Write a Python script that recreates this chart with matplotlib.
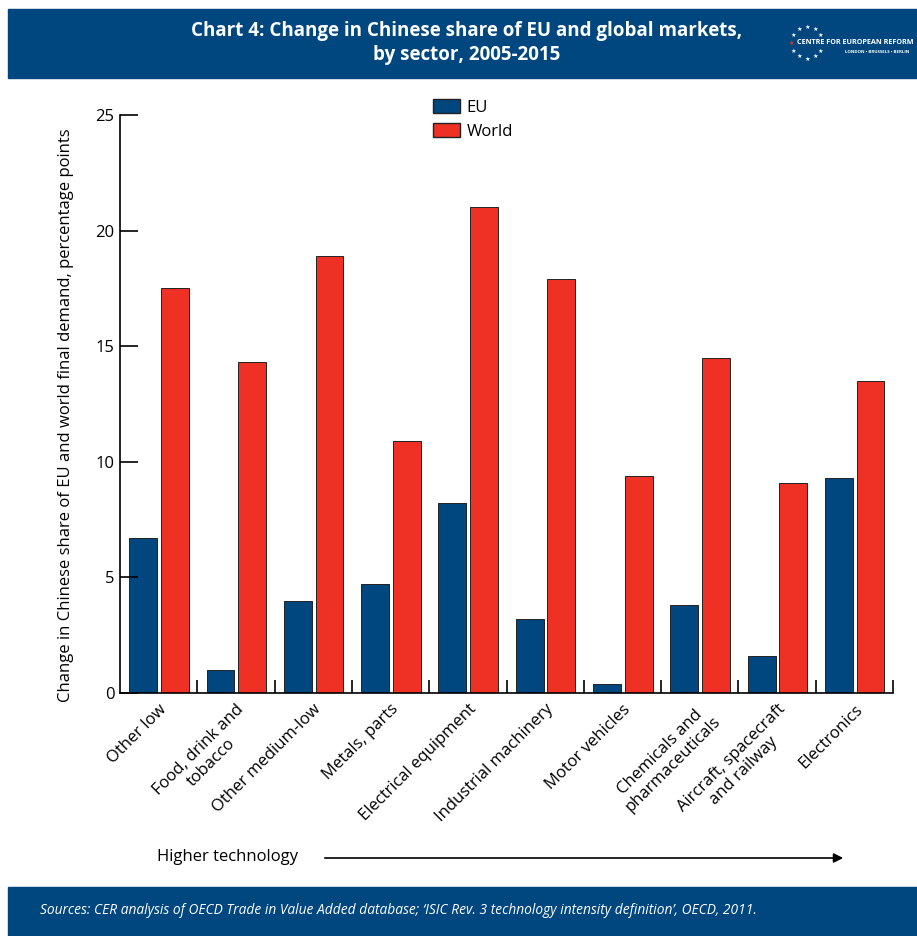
import numpy as np
import matplotlib
matplotlib.use("Agg")
import matplotlib.pyplot as plt
from matplotlib.patches import Rectangle, Patch

plt.rcParams['font.family'] = ['Open Sans', 'DejaVu Sans']

categories = ["Other low", "Food, drink and\ntobacco", "Other medium-low", "Metals, parts",
              "Electrical equipment", "Industrial machinery", "Motor vehicles",
              "Chemicals and\npharmaceuticals", "Aircraft, spacecraft\nand railway", "Electronics"]
eu = [6.7, 1.0, 4.0, 4.7, 8.2, 3.2, 0.4, 3.8, 1.6, 9.3]
world = [17.5, 14.3, 18.9, 10.9, 21.0, 17.9, 9.4, 14.5, 9.1, 13.5]
yticks = [0, 5, 10, 15, 20, 25]

blue = '#00467f'
red = '#ee3124'

fig = plt.figure(figsize=(9.17, 9.36), dpi=100)

# header and footer banners
fig.patches.append(Rectangle((8/917, 1-78/936), 1, 69/936, transform=fig.transFigure,
                             color=blue, zorder=0))
fig.patches.append(Rectangle((8/917, 0), 1, 49/936, transform=fig.transFigure,
                             color=blue, zorder=0))
fig.text(467/917, 1-43/936, "Chart 4: Change in Chinese share of EU and global markets,\nby sector, 2005-2015",
         color='white', fontsize=13.5, fontweight='bold', ha='center', va='center', linespacing=1.3)
fig.text(40/917, 1-911/936,
         "Sources: CER analysis of OECD Trade in Value Added database; \u2018ISIC Rev. 3 technology intensity definition\u2019, OECD, 2011.",
         color='white', fontsize=9.9, style='italic', ha='left', va='center')

# logo
ang = np.deg2rad(np.arange(0, 360, 30))
keep = ang != 0
sx = (807 + 16*np.cos(ang)) / 917
sy = (936 - 43 + 16*np.sin(ang)) / 936
cols = ['white' if abs(a - np.pi) > 0.01 else red for a in ang[keep]]
for x, y, c in zip(sx[keep], sy[keep], cols):
    fig.text(x, y, '\u2605', color=c, fontsize=4.5, ha='center', va='center', family='DejaVu Sans')
fig.text(797/917, 1-43/936, "CENTRE FOR EUROPEAN REFORM", color='white', fontsize=5.2,
         fontweight='bold', ha='left', va='center')
fig.text(909/917, 1-52/936, "LONDON \u2022 BRUSSELS \u2022 BERLIN", color='white', fontsize=3.2,
         fontweight='bold', ha='right', va='center')

ax = fig.add_axes([120/917, 1-693/936, 773/917, 578/936])
x = np.arange(len(categories))
ax.bar(x + 0.30, eu, width=0.36, color=blue, edgecolor='#222222', linewidth=0.7, label='EU')
ax.bar(x + 0.71, world, width=0.36, color=red, edgecolor='#222222', linewidth=0.7, label='World')

ax.set_xlim(0, len(categories))
ax.set_ylim(0, 25)
ax.set_yticks(yticks)
ax.tick_params(axis='y', direction='in', length=13, width=1.2, labelsize=12, pad=4)
ax.set_xticks(np.arange(1, len(categories) + 1))
ax.tick_params(axis='x', which='major', direction='in', length=9.5, width=1.2, labelbottom=False)
ax.set_xticks(x + 0.5, minor=True)
ax.set_xticklabels(categories, minor=True, rotation=45, ha='right', rotation_mode='anchor',
                   fontsize=12, multialignment='center')
ax.tick_params(axis='x', which='minor', length=0, pad=6)
for lab in ax.get_xticklabels(minor=True):
    lab.set_linespacing(1.15)
for s in ['top', 'right']:
    ax.spines[s].set_visible(False)
for s in ['left', 'bottom']:
    ax.spines[s].set_linewidth(1.2)

ax.set_ylabel("Change in Chinese share of EU and world final demand, percentage points",
              fontsize=12)
ax.yaxis.set_label_coords(-0.06, 0.48)

ax.legend(handles=[Patch(facecolor=blue, edgecolor='#222222', label='EU'),
                   Patch(facecolor=red, edgecolor='#222222', label='World')],
          loc='upper left', bbox_to_anchor=(418/917, 1-84/936), bbox_transform=fig.transFigure,
          frameon=False, fontsize=12, handlelength=1.6, handleheight=0.9, labelspacing=0.45,
          handletextpad=0.4)

fig.text(157/917, 1-857/936, "Higher technology", fontsize=12, ha='left', va='center')
fig.add_artist(matplotlib.patches.FancyArrowPatch((322/917, 1-858/936), (846/917, 1-858/936),
               transform=fig.transFigure, arrowstyle='-|>', mutation_scale=14, color='black', lw=1.2))

fig.savefig("out.png", dpi=100)
